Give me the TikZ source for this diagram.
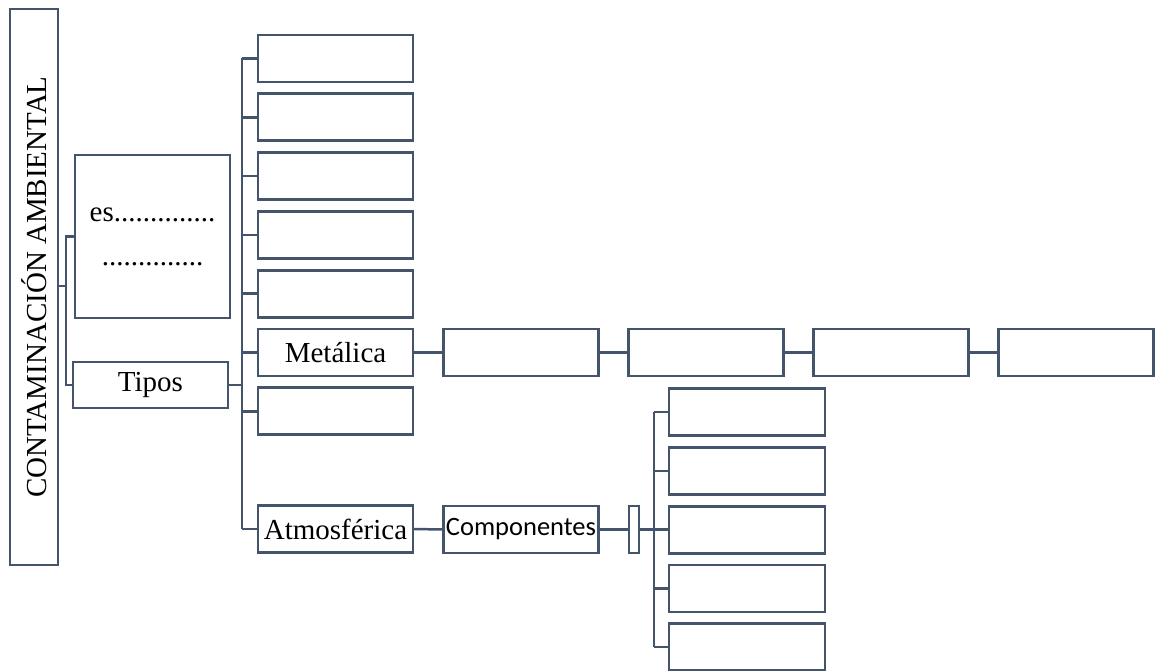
\documentclass[tikz,border=0pt]{standalone}
\usepackage{fontspec}
\setmainfont{Liberation Serif}
\newfontfamily\calibrifont{Carlito}
\definecolor{slate}{HTML}{44546A}
\begin{document}
\begin{tikzpicture}[x=1pt,y=-1pt,
	box/.style={draw=slate,line width=2.8pt,inner sep=0pt,outer sep=0pt,minimum width=155pt,minimum height=47pt,font=\fontsize{29}{34}\selectfont},
	link/.style={draw=slate,line width=2.5pt}]
		\useasboundingbox (0,0) rectangle (1155,671);
		% title and first split
		\node[box,rotate=90,minimum width=556pt,minimum height=48pt] (title) at (34,287) {CONTAMINACIÓN AMBIENTAL};
		\node[box,minimum height=163pt,align=center,font=\fontsize{29}{44}\selectfont] (es) at (152.5,236.5) {es..............\\..............};
		\node[box,minimum height=46pt] (tipos) at (150.5,385) {Tipos};
		\coordinate (s1) at (66,286);
		\draw[link] (title.south |- s1) -- (s1);
		\draw[link] (es.west) -| (s1) |- (tipos.west);
		% types column
		\coordinate (t0) at (242,58.5);
		\coordinate (t8) at (242,529);
		\draw[link] (t0) -- (t8);
		\draw[link] (tipos.east) -- (tipos.east -| t0);
		\foreach \i/\txt in {0/,1/,2/,3/,4/,5/Metálica,6/} {
			\node[box] (c\i) at (335.5,{58.5+58.8*\i}) {\txt};
			\draw[link] (c\i.west) -- (c\i.west -| t0);
		}
		\node[box] (atm) at (335.5,529) {Atmosférica};
		\draw[link] (atm.west) -- (t8);
		% metallic row
		\foreach \j/\k in {1/c5,2/m1,3/m2,4/m3} {
			\node[box] (m\j) at ({521+185*(\j-1)},352.5) {};
			\draw[link] (\k.east) -- (m\j.west);
		}
		% components
		\node[box,font=\calibrifont\fontsize{26.5}{32}\selectfont] (comp) at (521,529.5) {Componentes};
		\node[box,minimum width=10pt] (brk) at (634,529.5) {};
		\draw[link] (atm.east) -- (comp.west);
		\draw[link] (comp.east) -- (brk.west);
		\coordinate (k0) at (654,412);
		\coordinate (k4) at (654,647);
		\draw[link] (k0) -- (k4);
		\draw[link] (brk.east) -- (brk.east -| k0);
		\foreach \i in {0,...,4} {
			\node[box,minimum width=156pt] (k\i b) at (747,{412+58.8*\i}) {};
			\draw[link] (k\i b.west) -- (k\i b.west -| k0);
		}
	\end{tikzpicture}
\end{document}
